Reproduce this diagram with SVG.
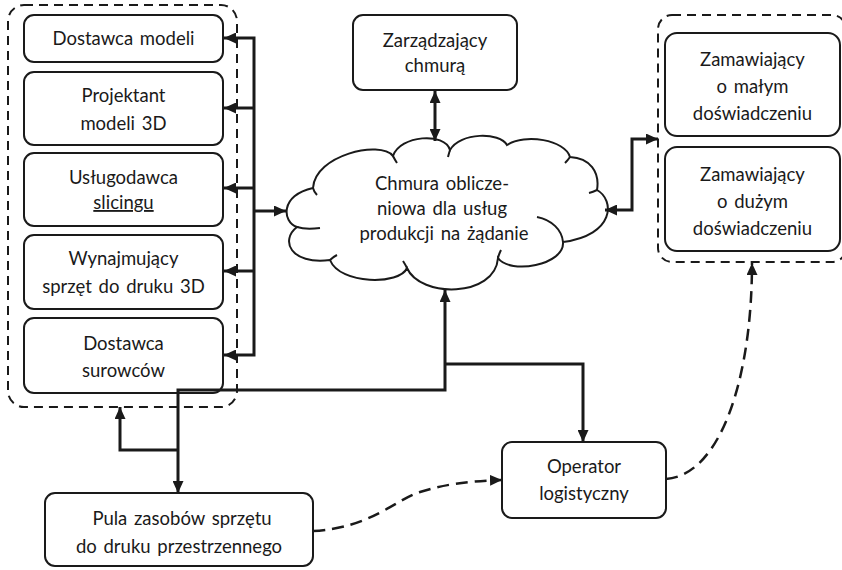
<svg xmlns="http://www.w3.org/2000/svg" width="842" height="570" viewBox="0 0 842 570">
  <defs>
    <style>
      .box { fill: #ffffff; stroke: #1a1a1a; stroke-width: 2; }
      .group { fill: none; stroke: #1a1a1a; stroke-width: 2; stroke-dasharray: 9 6; }
      .cloud { fill: #ffffff; stroke: #1a1a1a; stroke-width: 2; }
      .hook { fill: none; stroke: #1a1a1a; stroke-width: 2; }
      .conn { fill: none; stroke: #1a1a1a; stroke-width: 3; }
      .flow { fill: none; stroke: #1a1a1a; stroke-width: 2.5; stroke-dasharray: 12 7; }
      text { font-family: Lato, "Open Sans", "Liberation Sans", sans-serif; font-size: 18.5px; word-spacing: 2px; fill: #1a1a1a; text-anchor: middle; }
    </style>
    <marker id="arrow" viewBox="0 0 12 11" refX="12" refY="5.5" markerWidth="12" markerHeight="11" markerUnits="userSpaceOnUse" orient="auto-start-reverse">
      <path d="M0,0 L12,5.5 L0,11 Z" fill="#1a1a1a"/>
    </marker>
  </defs>

  <!-- dashed enclosures -->
  <rect id="providers-group" class="group" x="8" y="5" width="229" height="402" rx="16"/>
  <rect id="customers-group" class="group" x="658" y="15" width="188" height="247" rx="14"/>

  <!-- service providers -->
  <g id="dostawca-modeli">
    <rect class="box" x="24" y="15" width="199" height="47" rx="10"/>
    <text x="123.5" y="45">Dostawca modeli</text>
  </g>
  <g id="projektant">
    <rect class="box" x="24" y="72" width="199" height="73" rx="10"/>
    <text x="123.5" y="102">Projektant</text>
    <text x="123.5" y="130">modeli 3D</text>
  </g>
  <g id="uslugodawca">
    <rect class="box" x="24" y="153" width="199" height="73" rx="10"/>
    <text x="123.5" y="184">Usługodawca</text>
    <text x="123.5" y="209" text-decoration="underline">slicingu</text>
  </g>
  <g id="wynajmujacy">
    <rect class="box" x="24" y="235" width="199" height="74" rx="10"/>
    <text x="123.5" y="265">Wynajmujący</text>
    <text x="123.5" y="293">sprzęt do druku 3D</text>
  </g>
  <g id="dostawca-surowcow">
    <rect class="box" x="24" y="318" width="199" height="75" rx="10"/>
    <text x="123.5" y="350">Dostawca</text>
    <text x="123.5" y="377">surowców</text>
  </g>

  <!-- cloud manager -->
  <g id="zarzadzajacy">
    <rect class="box" x="353" y="15" width="164" height="75" rx="10"/>
    <text x="435" y="47">Zarządzający</text>
    <text x="435" y="72">chmurą</text>
  </g>

  <!-- computing cloud -->
  <g id="chmura">
    <path class="cloud" d="M297,227 C282,222 280,195 313,188 C315,155 380,140 393,156 C400,135 445,132 450,150 C460,132 500,132 507,145 C525,133 565,140 570,157 C590,158 600,172 597,190 C615,200 615,235 563,242 C565,265 510,275 498,258 C495,298 420,298 407,268 C400,285 340,285 330,260 C290,265 280,240 297,227 Z"/>
    <path class="hook" d="M297,227 C303,229 312,229 320,228"/>
    <path class="hook" d="M313,188 Q314,192 317,195"/>
    <path class="hook" d="M393,156 Q395,160 397,163"/>
    <path class="hook" d="M450,150 Q449,153 448,157"/>
    <path class="hook" d="M570,157 Q568,160 565,163"/>
    <path class="hook" d="M597,190 Q593,192 589,193"/>
    <path class="hook" d="M537,217 C552,220 562,230 563,242"/>
    <path class="hook" d="M498,258 Q499,254 501,250"/>
    <path class="hook" d="M407,268 Q405,264 403,261"/>
    <path class="hook" d="M330,260 Q333,257 337,255"/>
    <text x="442" y="190">Chmura oblicze-</text>
    <text x="442" y="215">niowa dla usług</text>
    <text x="444" y="240">produkcji na żądanie</text>
  </g>

  <!-- customers -->
  <g id="zamawiajacy-maly">
    <rect class="box" x="665" y="33" width="175" height="103" rx="12"/>
    <text x="752.5" y="66">Zamawiający</text>
    <text x="752.5" y="93">o małym</text>
    <text x="752.5" y="120">doświadczeniu</text>
  </g>
  <g id="zamawiajacy-duzy">
    <rect class="box" x="665" y="147" width="175" height="104" rx="12"/>
    <text x="752.5" y="181">Zamawiający</text>
    <text x="752.5" y="208">o dużym</text>
    <text x="752.5" y="235">doświadczeniu</text>
  </g>

  <!-- logistics and hardware pool -->
  <g id="operator">
    <rect class="box" x="502" y="442" width="164" height="76" rx="10"/>
    <text x="584" y="473">Operator</text>
    <text x="584" y="500">logistyczny</text>
  </g>
  <g id="pula">
    <rect class="box" x="45" y="493" width="268" height="73" rx="10"/>
    <text x="182" y="525">Pula zasobów sprzętu</text>
    <text x="179" y="553">do druku przestrzennego</text>
  </g>

  <!-- connectors -->
  <g id="connectors">
    <path class="conn" d="M224,38 H254 V355 H224" marker-start="url(#arrow)" marker-end="url(#arrow)"/>
    <path class="conn" d="M254,108 H224" marker-end="url(#arrow)"/>
    <path class="conn" d="M254,188 H224" marker-end="url(#arrow)"/>
    <path class="conn" d="M254,271 H224" marker-end="url(#arrow)"/>
    <path class="conn" d="M254,211 H286" marker-end="url(#arrow)"/>
    <path class="conn" d="M435,91 V141" marker-start="url(#arrow)" marker-end="url(#arrow)"/>
    <path class="conn" d="M605,210 H632 V139 H658" marker-start="url(#arrow)" marker-end="url(#arrow)"/>
    <path class="conn" d="M445,290 V390 H178 V493" marker-start="url(#arrow)" marker-end="url(#arrow)"/>
    <path class="conn" d="M445,364 H583 V442" marker-end="url(#arrow)"/>
    <path class="conn" d="M178,450 H120 V407" marker-end="url(#arrow)"/>
    <path class="flow" d="M313,531 C370,528 395,500 420,492 C445,484 470,481 502,480" marker-end="url(#arrow)"/>
    <path class="flow" d="M666,479 C720,475 752,380 752,263" marker-end="url(#arrow)"/>
  </g>
</svg>
